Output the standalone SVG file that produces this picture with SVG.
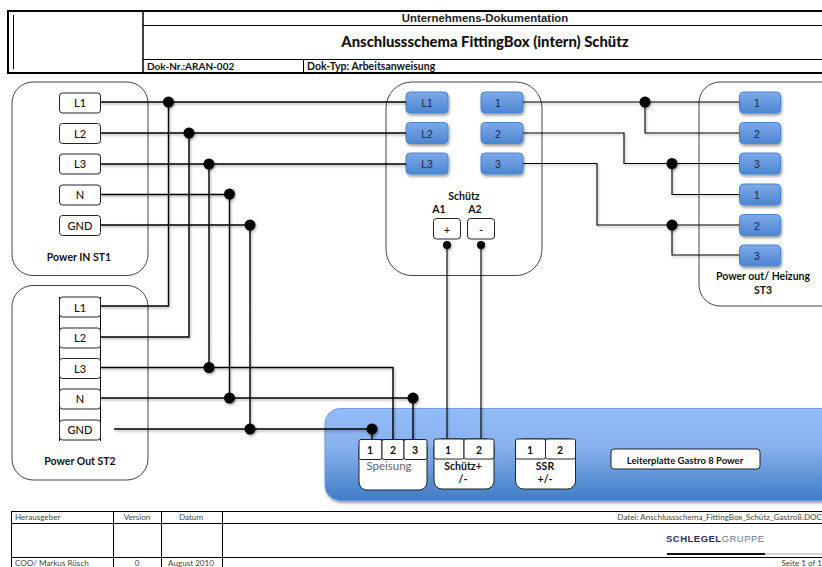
<svg xmlns="http://www.w3.org/2000/svg" width="822" height="567" viewBox="0 0 822 567">
<style>
text{font-family:"Lato","Open Sans","Liberation Sans",sans-serif;fill:#111;text-anchor:middle}
.b{font-weight:700;font-size:10.500px}
.t{font-size:11px;font-weight:500}
.bl{font-family:"Liberation Sans",Arial,sans-serif;font-size:10.500px;fill:#1a2a40}
.f{font-size:8.100px;fill:#444;font-weight:400}
.cont{fill:#fff;stroke:#444;stroke-width:1}
.term{fill:#fff;stroke:#222;stroke-width:1}
.blue{fill:url(#btn);stroke:#4a86d0;stroke-width:1;filter:url(#sh)}
.h{fill:none;stroke:#000}
.w{fill:none;stroke:#000;stroke-width:1.400}
.d{fill:#000}
</style>
<defs>
<linearGradient id="btn" x1="0" y1="0" x2="0" y2="1"><stop offset="0" stop-color="#7fa9e8"/><stop offset="1" stop-color="#4c86d2"/></linearGradient>
<linearGradient id="board" x1="0" y1="0" x2="0" y2="1"><stop offset="0" stop-color="#93bbf7"/><stop offset="0.4" stop-color="#8ab2ee"/><stop offset="1" stop-color="#3f7cc6"/></linearGradient>
<filter id="sh" x="-30%" y="-30%" width="160%" height="170%"><feDropShadow dx="1" dy="2" stdDeviation="1.500" flood-color="#000" flood-opacity="0.4"/></filter>
<filter id="ws" x="-30%" y="-30%" width="160%" height="160%"><feDropShadow dx="1" dy="1.500" stdDeviation="1.200" flood-color="#000" flood-opacity="0.35"/></filter>
</defs>

<g id="header">
<rect x="8" y="11" width="830" height="62" fill="#fff" stroke="#000" stroke-width="2"/>
<path class="h" stroke-width="1.500" d="M143 11V73"/>
<path class="h" d="M13.500 15V69M143 25.500H822M143 59.500H822M303.500 60V73"/>
<text x="485" y="22" style="font-family:'Liberation Sans',Arial,sans-serif;font-weight:700;font-size:11.400px;fill:#222">Unternehmens-Dokumentation</text>
<text x="485" y="47" style="font-weight:900;font-size:14.800px">Anschlussschema FittingBox (intern) Schütz</text>
<text x="147" y="70" style="text-anchor:start;font-weight:700;font-size:10px">Dok-Nr.:ARAN-002</text>
<text x="307" y="70" class="b" style="text-anchor:start">Dok-Typ: Arbeitsanweisung</text>
</g>

<g id="power-in">
<rect class="cont" x="12" y="82" width="136" height="193.500" rx="21"/>
<g class="term">
<rect x="59.500" y="93" width="41" height="20" rx="3"/><rect x="59.500" y="123.500" width="41" height="20" rx="3"/><rect x="59.500" y="154" width="41" height="20" rx="3"/><rect x="59.500" y="185" width="41" height="20" rx="3"/><rect x="59.500" y="215.500" width="41" height="20" rx="3"/>
</g>
<text class="t" x="80" y="107">L1</text><text class="t" x="80" y="138">L2</text><text class="t" x="80" y="168">L3</text><text class="t" x="80" y="199">N</text><text class="t" x="80" y="230">GND</text>
<text class="b" x="79" y="261">Power IN ST1</text>
</g>

<g id="power-out">
<rect class="cont" x="12" y="285.500" width="136" height="194.500" rx="21"/>
<path class="h" d="M59.500 297V441M100.500 297V441"/>
<g class="term">
<rect x="59.500" y="297" width="41" height="20" rx="3"/><rect x="59.500" y="328" width="41" height="20" rx="3"/><rect x="59.500" y="358.500" width="41" height="20" rx="3"/><rect x="59.500" y="389" width="41" height="20" rx="3"/><rect x="59.500" y="420" width="41" height="20" rx="3"/>
</g>
<text class="t" x="80" y="312">L1</text><text class="t" x="80" y="342">L2</text><text class="t" x="80" y="373">L3</text><text class="t" x="80" y="403">N</text><text class="t" x="80" y="434">GND</text>
<text class="b" x="80" y="465">Power Out  ST2</text>
</g>

<g id="schuetz">
<rect class="cont" x="386" y="82" width="156" height="193.500" rx="26"/>
<rect class="blue" x="406" y="92" width="42" height="21" rx="4"/><rect class="blue" x="406" y="122.500" width="42" height="21" rx="4"/><rect class="blue" x="406" y="153" width="42" height="21" rx="4"/>
<rect class="blue" x="481" y="92" width="42" height="21" rx="4"/><rect class="blue" x="481" y="122.500" width="42" height="21" rx="4"/><rect class="blue" x="481" y="153" width="42" height="21" rx="4"/>
<text class="bl" x="427" y="107">L1</text><text class="bl" x="427" y="138">L2</text><text class="bl" x="427" y="168">L3</text>
<text class="bl" x="498" y="107">1</text><text class="bl" x="498" y="138">2</text><text class="bl" x="498" y="168">3</text>
<text class="b" x="464" y="200">Schütz</text><text class="b" x="439" y="213">A1</text><text class="b" x="475" y="213">A2</text>
<rect class="term" x="433.500" y="218.500" width="27" height="20.500" rx="3"/><rect class="term" x="467.500" y="218.500" width="27" height="20.500" rx="3"/>
<text class="t" x="447" y="234">+</text><text class="t" x="481" y="234">-</text>
</g>

<g id="power-out-heizung">
<rect class="cont" x="699" y="82" width="150" height="224" rx="21"/>
<rect class="blue" x="739.500" y="92" width="41" height="21" rx="4"/><rect class="blue" x="739.500" y="122.500" width="41" height="21" rx="4"/><rect class="blue" x="739.500" y="153" width="41" height="21" rx="4"/><rect class="blue" x="739.500" y="184" width="41" height="21" rx="4"/><rect class="blue" x="739.500" y="214.500" width="41" height="21" rx="4"/><rect class="blue" x="739.500" y="245" width="41" height="21" rx="4"/>
<text class="bl" x="757" y="107">1</text><text class="bl" x="757" y="138">2</text><text class="bl" x="757" y="168">3</text><text class="bl" x="757" y="199">1</text><text class="bl" x="757" y="230">2</text><text class="bl" x="757" y="260">3</text>
<text class="b" x="763" y="280">Power out/ Heizung</text><text class="b" x="763" y="294">ST3</text>
</g>

<g id="board-node">
<rect x="325" y="408.500" width="520" height="92" rx="15" fill="url(#board)" stroke="#6f9fdc" filter="url(#sh)"/>
</g>

<g id="connectors">
<g class="w" filter="url(#ws)">
<path d="M100 102H406M100 133H406M100 164H406M100 194.500H229.500M100 225H250"/>
<path d="M168.500 102V306H100M189 133V337H100M209 164V367.500M229.500 194.500V398M250 225V429"/>
<path d="M100 367.500H393V440M100 398H413V440M114 429H372V440"/>
</g>
<g class="w" style="stroke-width:1.100" filter="url(#ws)">
<path d="M523 102H739M645 102V133H739M523 133H624V163.500H739M672 163.500V194.500H739M523 163.500H597V225H739M672 225V255H739"/>
<path d="M447 245V440M481 245V440"/>
</g>
<g class="d" filter="url(#ws)">
<circle cx="168.500" cy="102" r="5.500"/><circle cx="189" cy="133" r="5.500"/><circle cx="209" cy="164" r="5.500"/><circle cx="229.500" cy="194" r="5.500"/><circle cx="250" cy="225" r="5.500"/>
<circle cx="209" cy="367.500" r="5.500"/><circle cx="229.500" cy="398" r="5.500"/><circle cx="250" cy="429" r="5.500"/><circle cx="413" cy="398" r="5.500"/><circle cx="372" cy="429" r="5.500"/>
<circle cx="645" cy="102" r="5.500"/><circle cx="672" cy="163.500" r="5.500"/><circle cx="672" cy="225" r="5.500"/>
<circle cx="447" cy="245" r="4"/><circle cx="481" cy="245" r="4"/>
</g>
</g>

<g id="speisung">
<rect class="term" x="359" y="439.500" width="68" height="50.500" rx="8"/>
<rect class="term" x="359" y="439.500" width="23" height="20" rx="2"/><rect class="term" x="382" y="439.500" width="22" height="20" rx="2"/><rect class="term" x="404" y="439.500" width="23" height="20" rx="2"/>
<text class="b" x="370" y="454">1</text><text class="b" x="393" y="454">2</text><text class="b" x="415" y="454">3</text>
<text x="389" y="470" style="font-size:11.500px;font-weight:400;fill:#666">Speisung</text>
</g>
<g id="schuetz-plus">
<rect class="term" x="434" y="439" width="60" height="50" rx="8"/>
<rect class="term" x="434" y="439" width="30" height="20" rx="2"/><rect class="term" x="464" y="439" width="30" height="20" rx="2"/>
<text class="b" x="448" y="454">1</text><text class="b" x="479" y="454">2</text>
<text class="b" x="463" y="470">Schütz+</text><text class="b" x="463" y="483">/-</text>
</g>
<g id="ssr">
<rect class="term" x="515.500" y="439" width="60" height="50" rx="8"/>
<rect class="term" x="515.500" y="439" width="30" height="20" rx="2"/><rect class="term" x="545.500" y="439" width="30" height="20" rx="2"/>
<text class="b" x="530" y="454">1</text><text class="b" x="560" y="454">2</text>
<text class="b" x="545" y="470">SSR</text><text class="b" x="545" y="483">+/-</text>
</g>
<g id="leiterplatte">
<rect class="term" x="611" y="449" width="149" height="20" rx="3"/>
<text x="685" y="464" style="font-weight:700;font-size:9.500px">Leiterplatte Gastro 8 Power</text>
</g>

<g id="footer">
<path class="h" d="M11.500 511V567M113.500 511V567M161.500 511V567M222.500 511V567M11 511.500H822M11 523.500H822M11 557.500H822"/>
<text class="f" x="15" y="520" style="text-anchor:start">Herausgeber</text><text class="f" x="137" y="520">Version</text><text class="f" x="191" y="520">Datum</text>
<text class="f" x="15" y="566" style="text-anchor:start">COO/ Markus Rüsch</text><text class="f" x="137" y="566">0</text><text class="f" x="191" y="566">August 2010</text>
<text class="f" x="822" y="520" style="text-anchor:end">Datei: Anschlussschema_FittingBox_Schütz_Gastro8.DOC</text>
<text class="f" x="822" y="566" style="text-anchor:end">Seite 1 of 1</text>
<text x="666" y="541.500" style="text-anchor:start;font-family:'Liberation Sans',Arial,sans-serif;font-size:9.500px;font-weight:700;fill:#1f2f66;letter-spacing:.8px" textLength="99">SCHLEGEL<tspan style="font-weight:400;fill:#6b7a90">GRUPPE</tspan></text>
<path d="M667 554H765" stroke="#111" stroke-width="2" fill="none"/><path d="M765 554H822" stroke="#aaa" fill="none"/>
</g>
</svg>
